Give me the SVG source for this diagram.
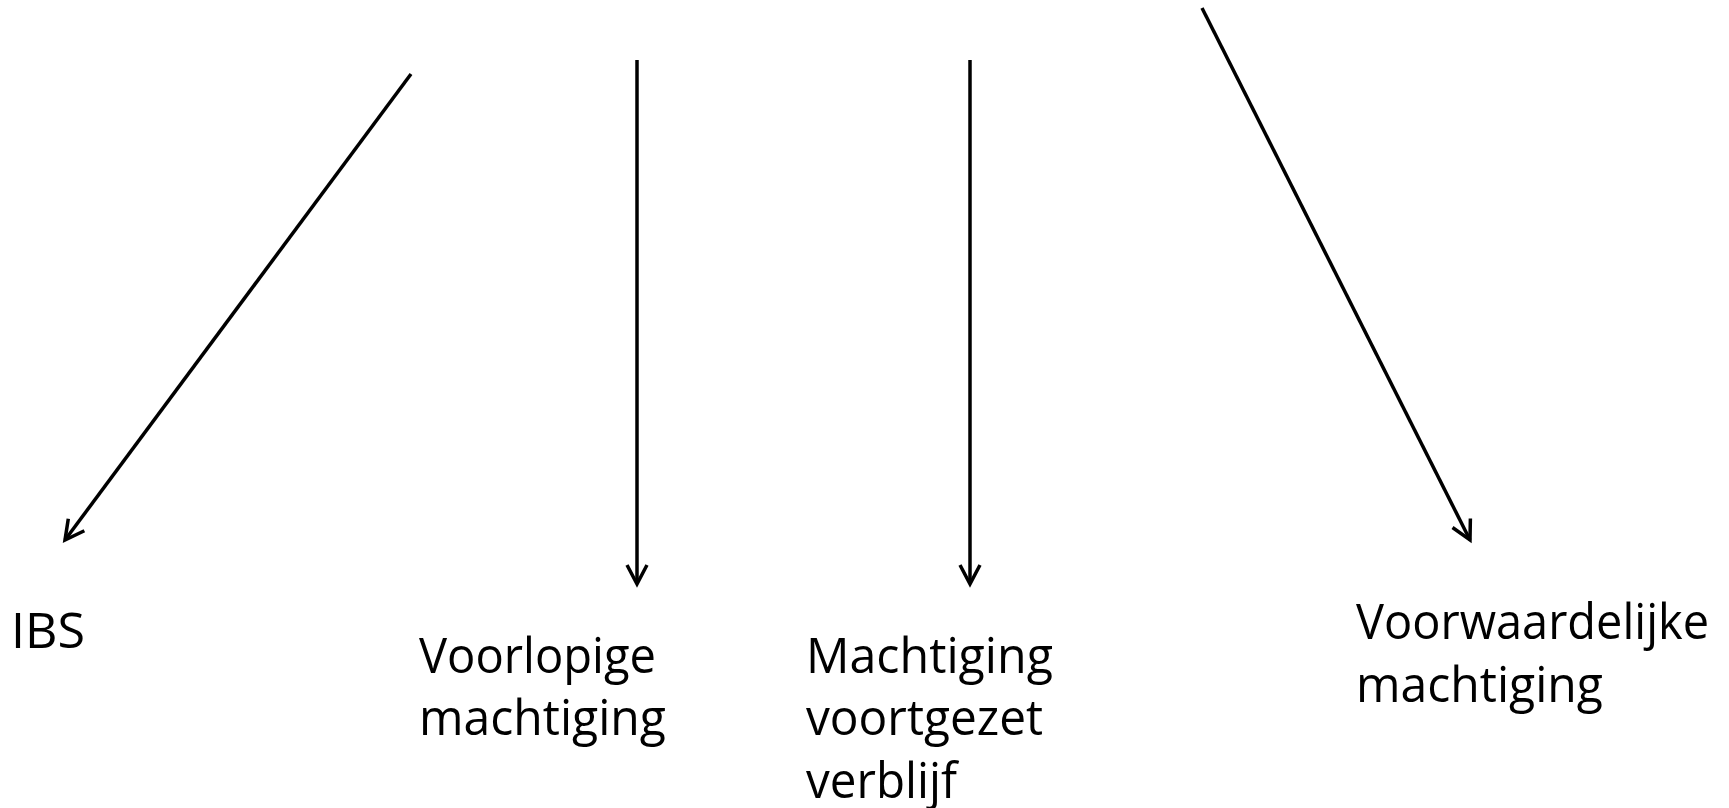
<svg xmlns="http://www.w3.org/2000/svg" width="1729" height="808" viewBox="0 0 1729 808">
<style>
.lbl{font-family:"Open Sans","Noto Sans",sans-serif;font-size:50px;fill:#000}
.con{stroke:#000;stroke-width:3.5;fill:none;marker-end:url(#ah)}
</style>
<defs>
<marker id="ah" markerUnits="userSpaceOnUse" markerWidth="26" markerHeight="26" refX="20" refY="11" orient="auto" viewBox="0 0 26 22">
<path d="M1,1 L20,11 L1,21" fill="none" stroke="#000" stroke-width="3.5"/>
</marker>
</defs>
<rect width="1729" height="808" fill="#fff"/>
<g id="connectors">
<line class="con" x1="411" y1="74" x2="65" y2="540"/>
<line class="con" x1="637" y1="60" x2="637" y2="584"/>
<line class="con" x1="970" y1="60" x2="970" y2="584"/>
<line class="con" x1="1202" y1="8" x2="1470" y2="540"/>
</g>
<g id="ibs"><text class="lbl" x="11" y="648" textLength="74" lengthAdjust="spacingAndGlyphs">IBS</text></g>
<g id="voorlopige"><text class="lbl" x="419" y="673" textLength="237" lengthAdjust="spacingAndGlyphs">Voorlopige</text><text class="lbl" x="419" y="735" textLength="247" lengthAdjust="spacingAndGlyphs">machtiging</text></g>
<g id="mvv"><text class="lbl" x="806" y="673" textLength="247" lengthAdjust="spacingAndGlyphs">Machtiging</text><text class="lbl" x="806" y="735" textLength="237" lengthAdjust="spacingAndGlyphs">voortgezet</text><text class="lbl" x="806" y="798" textLength="151" lengthAdjust="spacingAndGlyphs">verblijf</text></g>
<g id="voorwaardelijke"><text class="lbl" x="1356" y="639" textLength="353" lengthAdjust="spacingAndGlyphs">Voorwaardelijke</text><text class="lbl" x="1356" y="702" textLength="247" lengthAdjust="spacingAndGlyphs">machtiging</text></g>
</svg>
